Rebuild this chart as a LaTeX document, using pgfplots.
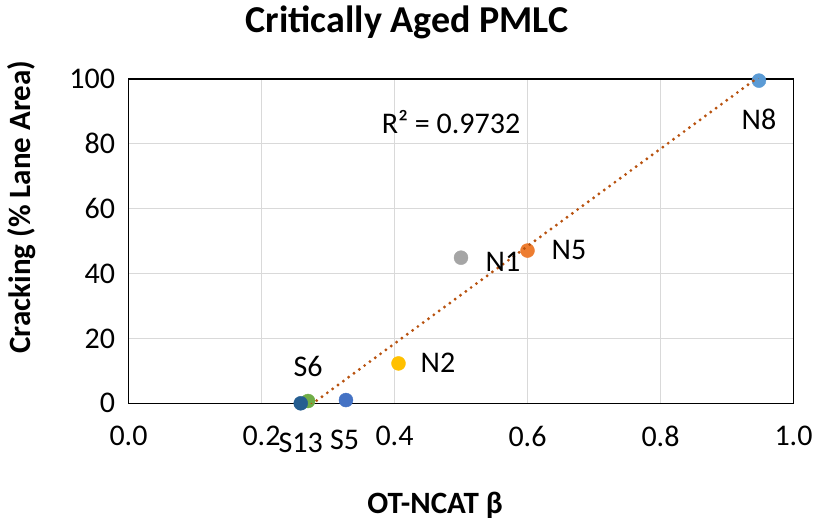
\documentclass[border=0pt]{standalone}
\usepackage{fontspec}
\setmainfont{Carlito}
\usepackage{pgfplots}
\pgfplotsset{compat=1.18}
\definecolor{gridgray}{HTML}{D9D9D9}
\definecolor{cS13}{HTML}{255E91}
\definecolor{cS6}{HTML}{70AD47}
\definecolor{cS5}{HTML}{4472C4}
\definecolor{cN2}{HTML}{FFC000}
\definecolor{cN1}{HTML}{A5A5A5}
\definecolor{cN5}{HTML}{ED7D31}
\definecolor{cN8}{HTML}{5B9BD5}
\definecolor{trend}{HTML}{B8520F}
\newcommand{\fs}{\fontsize{30bp}{36bp}\selectfont}
\begin{document}
\begin{tikzpicture}
\useasboundingbox (-128.5bp,-118.7bp) rectangle (686.5bp,403.3bp);
\begin{axis}[
  at={(0,0)}, anchor=south west,
  scale only axis, width=665bp, height=324.3bp,
  xmin=0, xmax=1, ymin=0, ymax=100,
  xtick={0,0.2,0.4,0.6,0.8,1.0},
  ytick={0,20,40,60,80,100},
  /pgf/number format/assume math mode=true,
  xticklabel={\pgfmathprintnumber[fixed,fixed zerofill,precision=1]{\tick}},
  xticklabel style={yshift=-19bp},
  yticklabel style={xshift=-10bp},
  tick label style={font=\fs},
  major tick length=0pt,
  grid=major,
  major grid style={draw=gridgray, line width=1.2bp},
  axis line style={draw=black, line width=1.6bp},
  clip mode=individual,
  title={\bfseries Critically Aged PMLC},
  title style={at={(axis description cs:0.419,1.155)}, anchor=center, font=\fontsize{38bp}{44bp}\selectfont},
  xlabel={\bfseries OT-NCAT β},
  xlabel style={at={(axis description cs:0.461,-0.314)}, anchor=center, font=\fontsize{31bp}{37bp}\selectfont},
  ylabel={\bfseries Cracking (\% Lane Area)},
  ylabel style={at={(axis description cs:-0.160,0.605)}, anchor=center, font=\fontsize{31bp}{37bp}\selectfont},
]
\addplot[only marks, mark=*, mark size=7bp, color=cS6] coordinates {(0.270,0.7)};
\addplot[only marks, mark=*, mark size=7bp, color=cS13] coordinates {(0.259,0)};
\addplot[only marks, mark=*, mark size=7bp, color=cS5] coordinates {(0.327,1.0)};
\addplot[only marks, mark=*, mark size=7bp, color=cN2] coordinates {(0.406,12.3)};
\addplot[only marks, mark=*, mark size=7bp, color=cN1] coordinates {(0.500,44.9)};
\addplot[only marks, mark=*, mark size=7bp, color=cN5] coordinates {(0.600,47.1)};
\addplot[only marks, mark=*, mark size=7bp, color=cN8] coordinates {(0.948,99.5)};
\addplot[no marks, draw=trend, line width=3.2bp, line cap=round, dash pattern=on 0pt off 6.6bp] coordinates {(0.259,-2.77) (0.948,100.7)};
\node[font=\fs] at (axis cs:0.259,-12.3) {S13};
\node[font=\fs] at (axis cs:0.325,-11.4) {S5};
\node[font=\fs] at (axis cs:0.270,11.2) {S6};
\node[font=\fs] at (axis cs:0.4654,12.4) {N2};
\node[font=\fs] at (axis cs:0.5632,43.6) {N1};
\node[font=\fs] at (axis cs:0.6624,47.2) {N5};
\node[font=\fs] at (axis cs:0.948,87.4) {N8};
\node[font=\fs] at (axis cs:0.485,86.7) {R² = 0.9732};
\end{axis}
\end{tikzpicture}
\end{document}
